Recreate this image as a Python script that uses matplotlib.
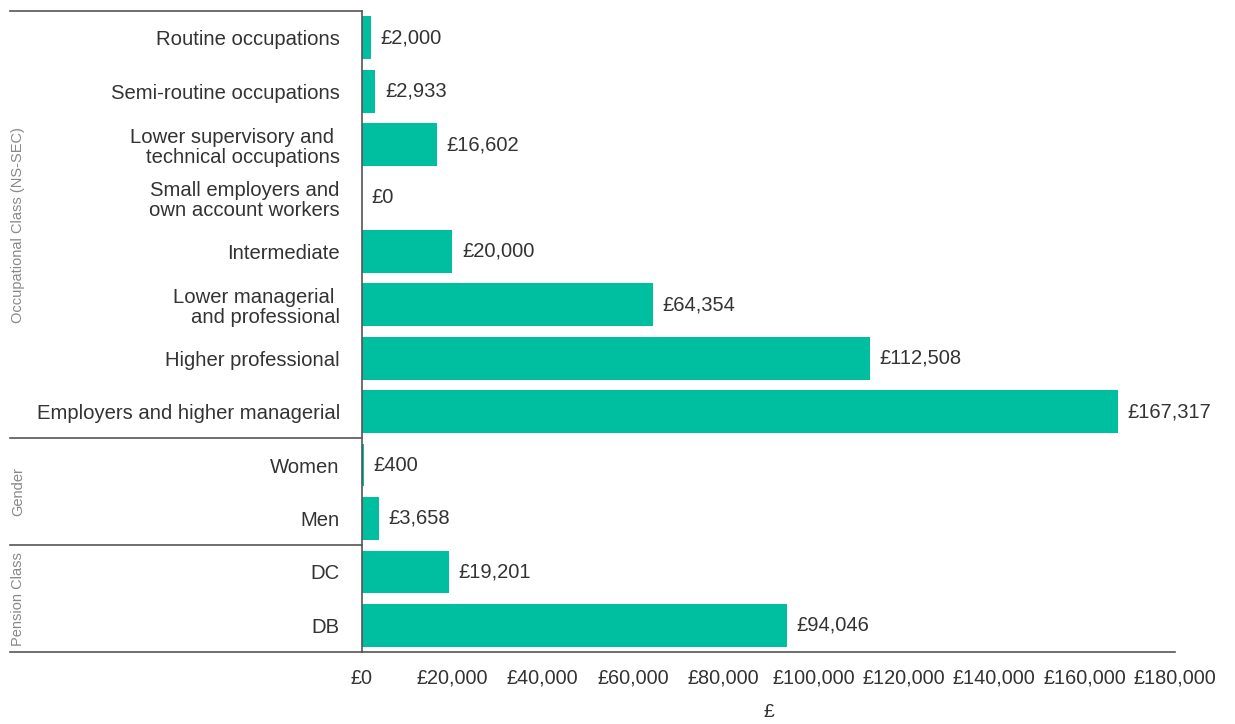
import matplotlib
matplotlib.use("Agg")
import matplotlib.pyplot as plt
import matplotlib.transforms as mtransforms
from matplotlib.ticker import FuncFormatter

categories = [
    "Routine occupations",
    "Semi-routine occupations",
    "Lower supervisory and \ntechnical occupations",
    "Small employers and\nown account workers",
    "Intermediate",
    "Lower managerial \nand professional",
    "Higher professional",
    "Employers and higher managerial",
    "Women",
    "Men",
    "DC",
    "DB",
]
values = [2000, 2933, 16602, 0, 20000, 64354, 112508, 167317, 400, 3658, 19201, 94046]
groups = ["Occupational Class (NS-SEC)", "Gender", "Pension Class"]
group_sizes = [8, 2, 2]
x_ticks = list(range(0, 180001, 20000))

plt.rcParams["font.family"] = ["Liberation Sans", "DejaVu Sans"]
bar_color = "#00bfa0"
text_color = "#333333"
line_color = "#555555"

fig = plt.figure(figsize=(12.35, 7.24), dpi=100)
ax = fig.add_axes([0.2931, 0.0994, 0.9514 - 0.2931, 0.9848 - 0.0994])

y = list(range(len(categories)))
ax.barh(y, values, height=0.8, color=bar_color)
ax.set_ylim(len(categories) - 0.5, -0.5)
ax.set_xlim(0, 180000)

for yi, v in zip(y, values):
    ax.annotate(f"£{v:,}", (v, yi), xytext=(7, 0), textcoords="offset points",
                va="center", ha="left", fontsize=14.5, color=text_color)

ax.set_yticks(y)
ax.set_yticklabels(categories, fontsize=14.6, color=text_color, linespacing=1.08)
ax.set_xticks(x_ticks)
ax.xaxis.set_major_formatter(FuncFormatter(lambda v, _: f"£{int(v):,}"))
ax.tick_params(axis="x", labelsize=14.3, colors=text_color, length=0, pad=12)
ax.tick_params(axis="y", length=0, pad=16)
ax.set_xlabel("£", fontsize=14, color=text_color, labelpad=12)

for s in ["top", "right"]:
    ax.spines[s].set_visible(False)
for s in ["left", "bottom"]:
    ax.spines[s].set_color(line_color)
    ax.spines[s].set_linewidth(1.2)

# group separators and labels to the left of the axis
trans = mtransforms.blended_transform_factory(ax.transAxes, ax.transData)
x_left = -0.433
start = -0.5
for name, size in zip(groups, group_sizes):
    ax.plot([x_left, 0], [start, start], transform=trans, color=line_color,
            lw=1.2, clip_on=False)
    ax.text(x_left + 0.01, start + size / 2, name, transform=trans, rotation=90,
            ha="center", va="center", fontsize=10.5, color="#888888")
    start += size
ax.plot([x_left, 0], [start, start], transform=trans, color=line_color,
        lw=1.2, clip_on=False)

fig.savefig("out.png", dpi=100)
